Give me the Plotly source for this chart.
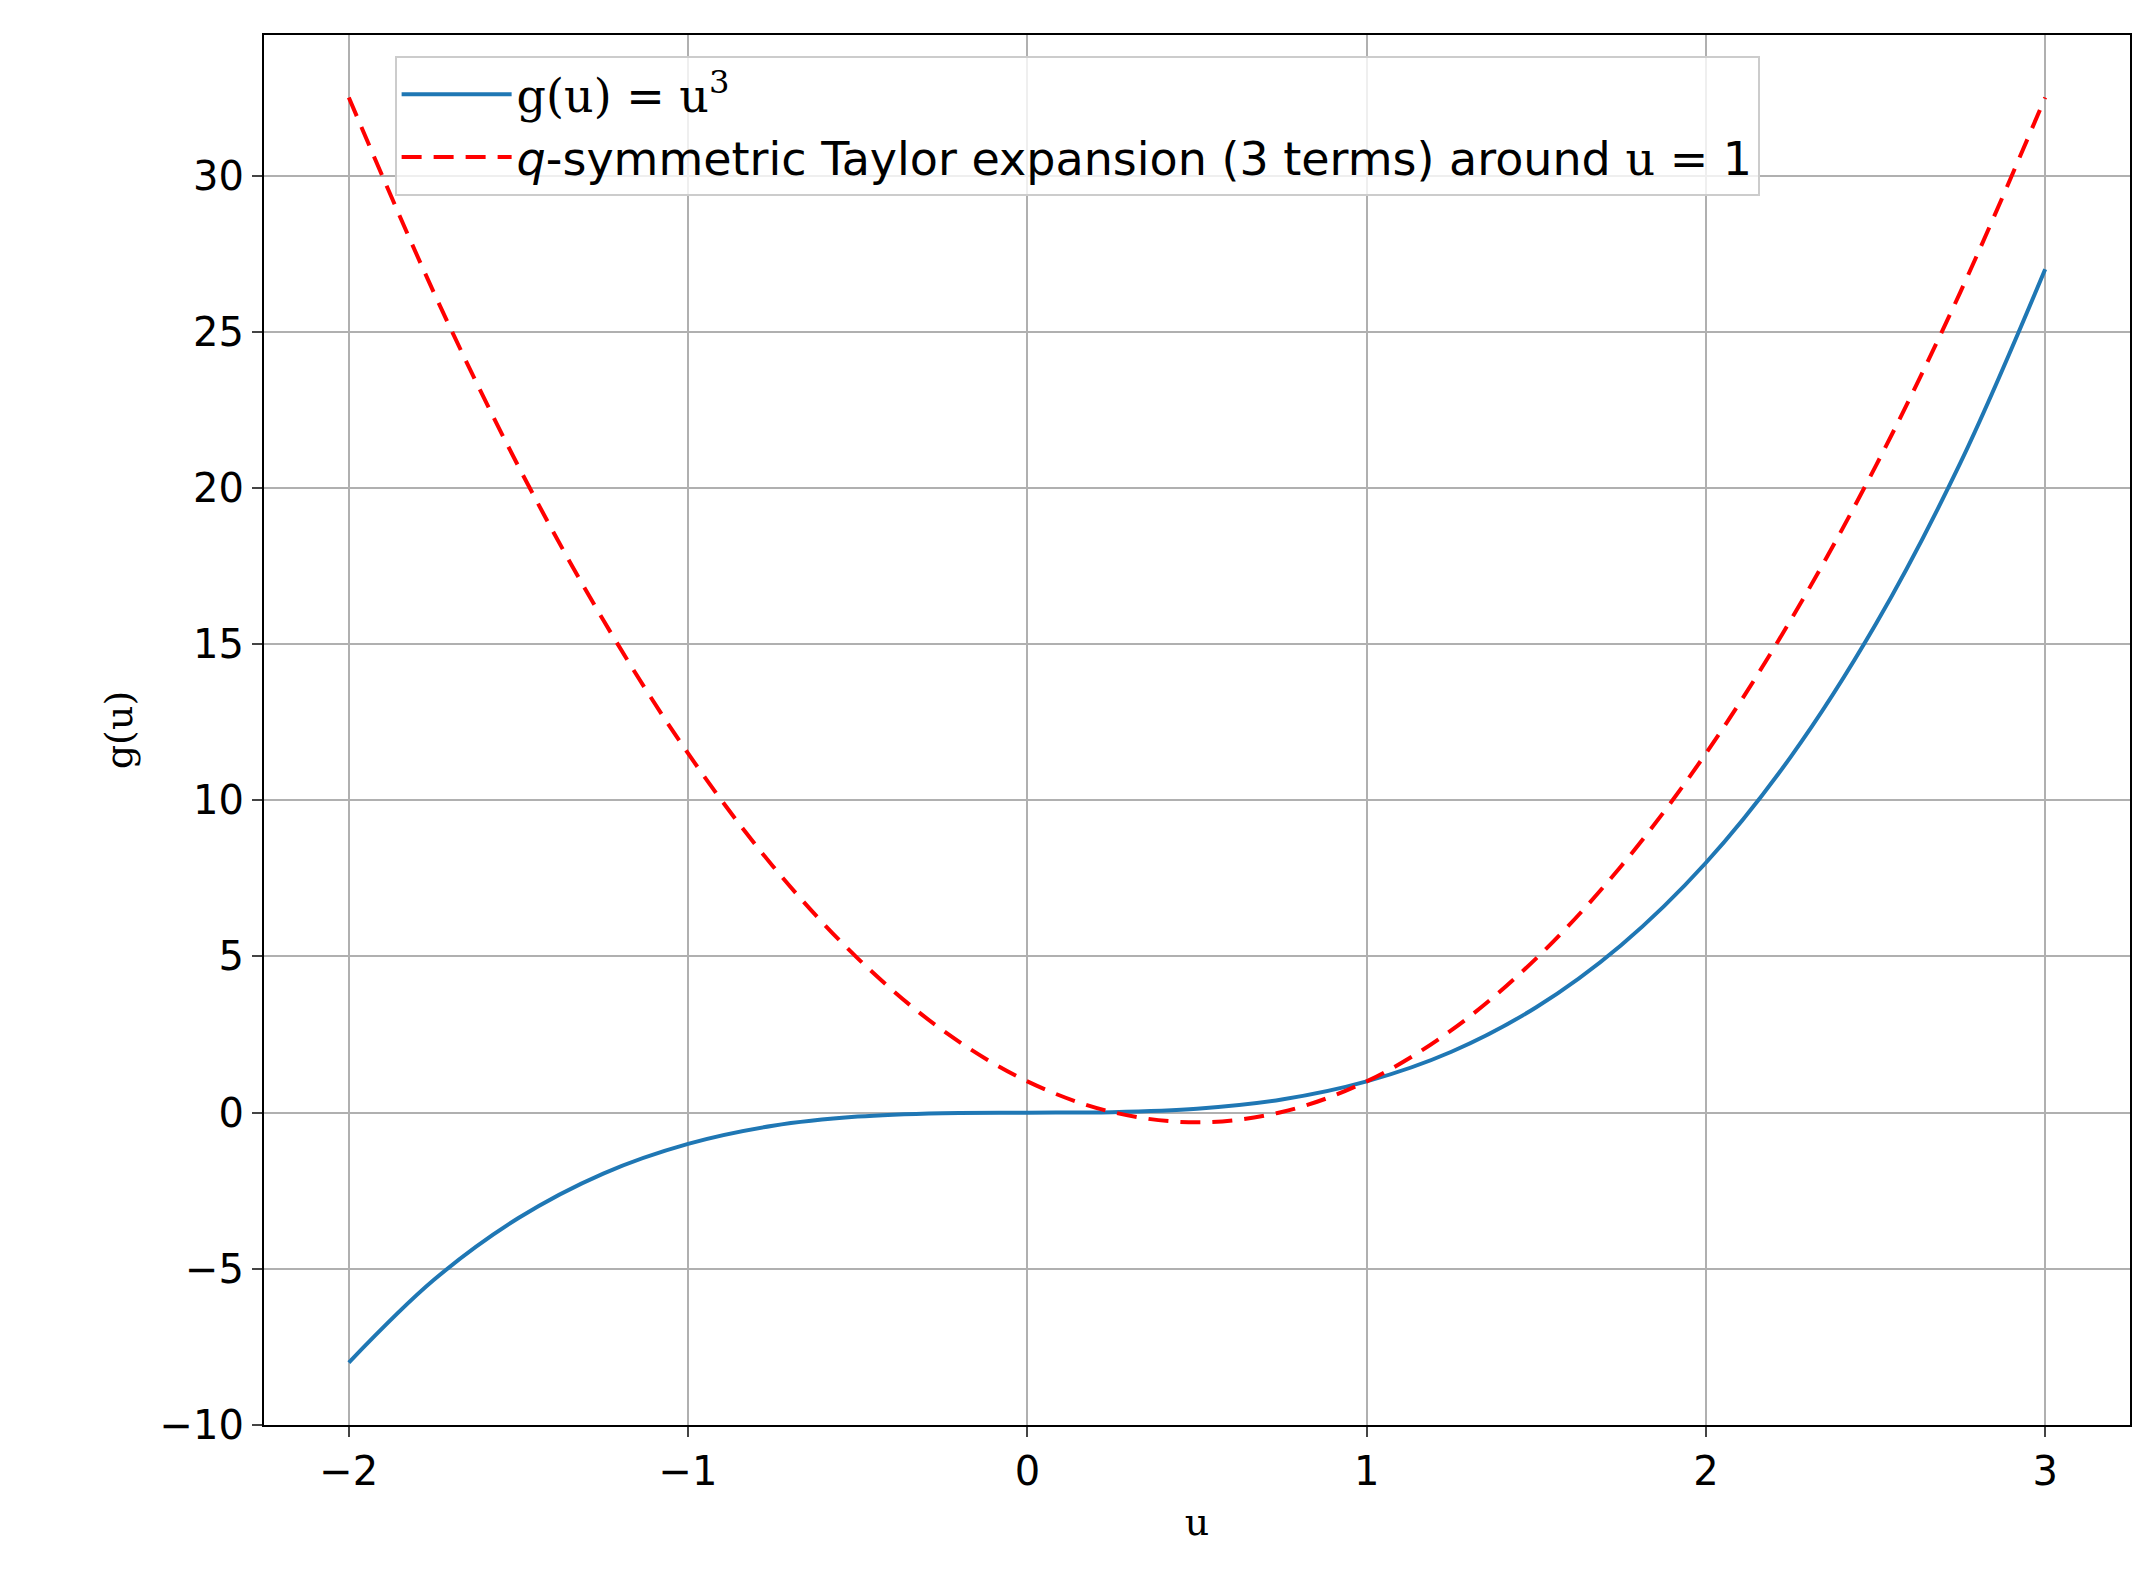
import plotly.graph_objects as go

u = [-2, -1.75, -1.5, -1.25, -1, -0.75, -0.5, -0.25, 0, 0.25, 0.5,
     0.75, 1, 1.25, 1.5, 1.75, 2, 2.25, 2.5, 2.75, 3]
g_vals = [-8, -5.36, -3.375, -1.95, -1, -0.42, -0.125, -0.016, 0, 0.016, 0.125,
          0.42, 1, 1.95, 3.375, 5.36, 8, 11.39, 15.625, 20.8, 27]
taylor_vals = [32.5, 26.27, 20.69, 15.77, 11.5, 7.89, 4.94, 2.64, 1, 0.02, -0.31,
               0.02, 1, 2.64, 4.94, 7.89, 11.5, 15.77, 20.69, 26.27, 32.5]

fig = go.Figure()
fig.add_trace(go.Scatter(x=u, y=g_vals, mode="lines", line_shape="spline",
                         line=dict(color="#1f77b4", width=4),
                         name="<span style='font-family:DejaVu Serif'>g(u) = u<sup>3</sup></span>"))
fig.add_trace(go.Scatter(x=u, y=taylor_vals, mode="lines", line_shape="spline",
                         line=dict(color="red", width=4, dash="20px,12px"),
                         name="<i>q</i>-symmetric Taylor expansion (3 terms) around "
                              "<span style='font-family:DejaVu Serif'>u</span> = 1"))

axis = dict(showgrid=True, gridcolor="#b0b0b0", gridwidth=2, showline=True, mirror=True,
            linecolor="black", linewidth=2, ticks="outside", ticklen=10, tickwidth=2,
            zeroline=False, tickfont=dict(size=40, color="black"))
fig.update_xaxes(range=[-2.25, 3.25], dtick=1, **axis,
                 title=dict(text="u", font=dict(family="DejaVu Serif", size=38)))
fig.update_yaxes(range=[-10, 34.5], dtick=5, **axis,
                 title=dict(text="g(u)", font=dict(family="DejaVu Serif", size=38)))
fig.update_layout(
    width=2146, height=1590, plot_bgcolor="white", paper_bgcolor="white",
    font=dict(family="DejaVu Sans", color="black"),
    margin=dict(l=256, r=24, t=27, b=173),
    legend=dict(x=0.07, y=0.985, xanchor="left", yanchor="top", itemwidth=110,
                tracegroupgap=20, font=dict(size=46), bgcolor="rgba(255,255,255,0.8)",
                bordercolor="#cccccc", borderwidth=2),
)
fig.write_html("out.html")
